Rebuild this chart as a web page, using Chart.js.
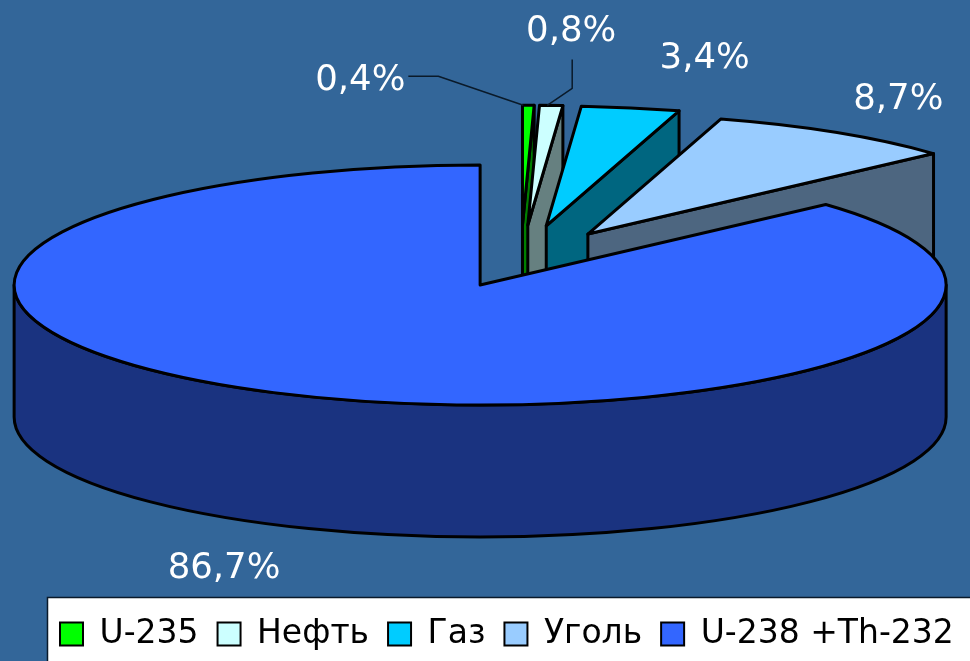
<!DOCTYPE html>
<html><head><meta charset="utf-8">
<style>html,body{margin:0;padding:0;background:#336699}canvas{display:block}</style>
<script src="https://cdn.jsdelivr.net/npm/chart.js@4"></script>
</head><body><canvas id="c" width="970" height="661"></canvas>
<script>
const categories = ['U-235','Нефть','Газ','Уголь','U-238 +Th-232'];
const values = [0.4,0.8,3.4,8.7,86.7];
const valueLabels = ['0,4%','0,8%','3,4%','8,7%','86,7%'];
const topColors = ['#00ff00','#ccffff','#00ccff','#99ccff','#3366ff'];
const wallColors = ['#008000','#668080','#006680','#4d6680','#1a3380'];
const explode = [141,141,141,126,100];
// label centre relative to the outer mid-point of its slice
const labelOffsets = [[-168,-24],[20,-74],[74,-49],[62,-33],[-67,174]];
// leader lines relative to the same point
const leaders = [[[-120,-29],[-90,-29],[-5,0]],[[21,-46],[21,-17],[-4,0]],null,null,null];

const PIE = {x:520.7, y:261.5, squash:0.2575, depth:132, line:3};

const pie3d = {
  id:'pie3d',
  beforeDraw(chart){
    const {ctx,width,height}=chart;
    ctx.save();
    ctx.fillStyle='#336699';ctx.fillRect(0,0,width,height);
    ctx.fillStyle='#ffffff';ctx.strokeStyle='#0a1a2a';ctx.lineWidth=1.5;
    ctx.fillRect(47.5,597.5,width,height);ctx.strokeRect(47.5,597.5,width,height);
    ctx.restore();
  },
  afterLayout(chart){
    const l=chart.legend;
    const pad=l.options.labels.padding;
    l.right=1100;
    l.top=598.5;
    // first item starts at x = 60
    l.left=2*60-pad-l.right+l.lineWidths[0];
  },
  beforeDatasetsDraw(chart){
    const {ctx}=chart;
    const arcs=chart.getDatasetMeta(0).data;
    const trace=(a,d,cb)=>{ // builds a path in squashed pie space, lifted by d px
      ctx.save();
      ctx.translate(PIE.x,PIE.y+d);
      ctx.scale(1,PIE.squash);
      ctx.translate(Math.cos(a.mid)*a.off,Math.sin(a.mid)*a.off);
      cb();
      ctx.restore();
    };
    const paint=(fill)=>{
      ctx.fillStyle=fill;ctx.strokeStyle='#000';ctx.lineWidth=PIE.line;ctx.lineJoin='round';
      ctx.fill();ctx.stroke();
    };
    const geo=arcs.map(el=>{
      const p=el.getProps(['startAngle','endAngle','outerRadius']);
      return {s:p.startAngle,e:p.endAngle,r:p.outerRadius,mid:(p.startAngle+p.endAngle)/2,off:el.options.offset};
    });
    geo.forEach((g,i)=>{
      // visible radial faces
      [[g.e,Math.cos(g.e)>1e-6],[g.s,Math.cos(g.s)<-1e-6]].forEach(([ang,vis])=>{
        if(!vis)return;
        ctx.beginPath();
        trace(g,0,()=>{ctx.moveTo(0,0);ctx.lineTo(Math.cos(ang)*g.r,Math.sin(ang)*g.r);});
        trace(g,PIE.depth,()=>{ctx.lineTo(Math.cos(ang)*g.r,Math.sin(ang)*g.r);ctx.lineTo(0,0);});
        ctx.closePath();
        paint(wallColors[i]);
      });
      // front-facing rim
      const from=Math.max(g.s,0), to=Math.min(g.e,Math.PI);
      if(to>from){
        ctx.beginPath();
        trace(g,0,()=>ctx.arc(0,0,g.r,from,to));
        trace(g,PIE.depth,()=>ctx.arc(0,0,g.r,to,from,true));
        ctx.closePath();
        paint(wallColors[i]);
      }
      // top face
      ctx.beginPath();
      trace(g,0,()=>{ctx.moveTo(0,0);ctx.arc(0,0,g.r,g.s,g.e);});
      ctx.closePath();
      paint(topColors[i]);
    });
    // labels and leader lines
    ctx.save();
    ctx.font='35.5px "DejaVu Sans"';ctx.textAlign='center';ctx.textBaseline='middle';
    geo.forEach((g,i)=>{
      const R=g.r+g.off;
      const ax=PIE.x+Math.cos(g.mid)*R, ay=PIE.y+Math.sin(g.mid)*R*PIE.squash;
      if(leaders[i]){
        ctx.beginPath();
        leaders[i].forEach((q,k)=>k?ctx.lineTo(ax+q[0],ay+q[1]):ctx.moveTo(ax+q[0],ay+q[1]));
        ctx.strokeStyle='#0a1a2a';ctx.lineWidth=1.5;ctx.stroke();
      }
      ctx.fillStyle='#ffffff';
      ctx.fillText(valueLabels[i],ax+labelOffsets[i][0],ay+labelOffsets[i][1]);
    });
    ctx.restore();
    return false;
  }
};

new Chart(document.getElementById('c'),{
  type:'pie',
  data:{labels:categories,datasets:[{
    data:values,backgroundColor:topColors,borderColor:'#000000',borderWidth:2,offset:explode,clip:false
  }]},
  options:{
    responsive:false,animation:false,radius:466,
    plugins:{
      tooltip:{enabled:false},
      legend:{position:'bottom',labels:{
        color:'#000000',boxWidth:23,boxHeight:23,padding:19,
        font:{family:'"DejaVu Sans"',size:33}
      }}
    }
  },
  plugins:[pie3d]
});
</script></body></html>
